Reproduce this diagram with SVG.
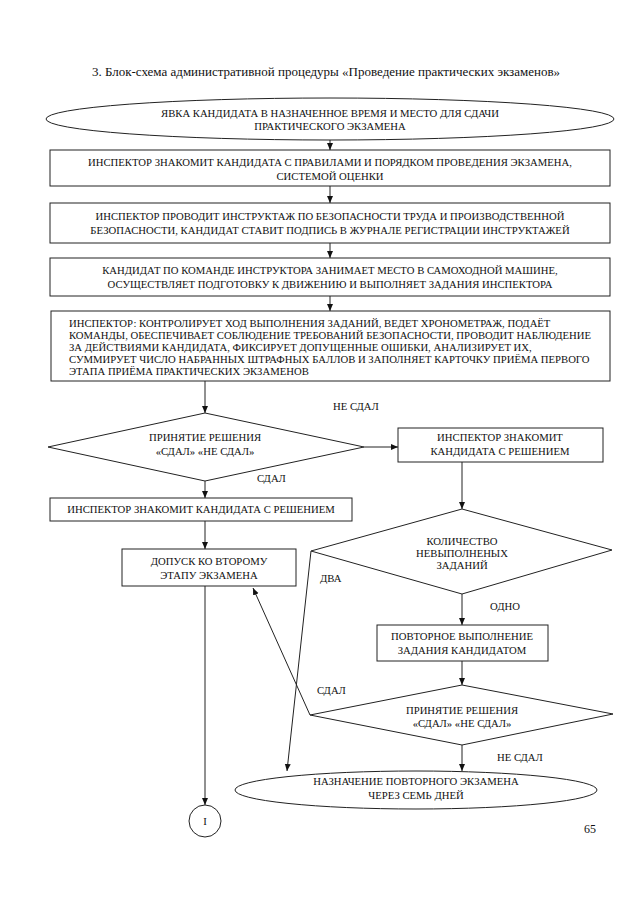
<svg xmlns="http://www.w3.org/2000/svg" width="640" height="905" viewBox="0 0 640 905">
<defs>
<marker id="ah" markerWidth="8" markerHeight="8" refX="7" refY="4" orient="auto" markerUnits="userSpaceOnUse">
<path d="M0,1 L7,4 L0,7 z" fill="#111"/>
</marker>
<style>
.s{fill:#fff;stroke:#222;stroke-width:1}
.c{fill:none;stroke:#222;stroke-width:1}
.t{font-family:"Liberation Serif","Times New Roman",serif;font-size:10.7px;fill:#111;text-anchor:middle}
.l{font-family:"Liberation Serif","Times New Roman",serif;font-size:10.7px;fill:#111}
.h{font-family:"Liberation Serif","Times New Roman",serif;font-size:13px;fill:#111;text-anchor:middle}
</style>
</defs>
<rect width="640" height="905" fill="#fff"/>
<text class="h" x="326" y="76">3. Блок-схема административной процедуры «Проведение практических экзаменов»</text>

<g id="connectors">
<line class="c" x1="330" y1="140" x2="330" y2="150" marker-end="url(#ah)"/>
<line class="c" x1="330" y1="186" x2="330" y2="203" marker-end="url(#ah)"/>
<line class="c" x1="330" y1="243" x2="330" y2="258" marker-end="url(#ah)"/>
<line class="c" x1="330" y1="296" x2="330" y2="311" marker-end="url(#ah)"/>
<line class="c" x1="205" y1="381" x2="205" y2="413" marker-end="url(#ah)"/>
<line class="c" x1="364" y1="447" x2="398" y2="447" marker-end="url(#ah)"/>
<line class="c" x1="205" y1="481" x2="205" y2="498" marker-end="url(#ah)"/>
<line class="c" x1="205" y1="521" x2="205" y2="549" marker-end="url(#ah)"/>
<line class="c" x1="205" y1="586" x2="205" y2="805" marker-end="url(#ah)"/>
<line class="c" x1="462" y1="462" x2="462" y2="509" marker-end="url(#ah)"/>
<line class="c" x1="462" y1="594" x2="462" y2="625" marker-end="url(#ah)"/>
<line class="c" x1="462" y1="661" x2="462" y2="685" marker-end="url(#ah)"/>
<line class="c" x1="310" y1="715" x2="253" y2="588" marker-end="url(#ah)"/>
<line class="c" x1="311" y1="551" x2="287" y2="771" marker-end="url(#ah)"/>
<line class="c" x1="462" y1="745" x2="462" y2="771" marker-end="url(#ah)"/>
<text class="l" x="333" y="410">НЕ СДАЛ</text>
<text class="l" x="257" y="482">СДАЛ</text>
<text class="l" x="320" y="582">ДВА</text>
<text class="l" x="490" y="610">ОДНО</text>
<text class="l" x="317" y="694">СДАЛ</text>
<text class="l" x="497" y="761">НЕ СДАЛ</text>
</g>

<g id="n1">
<ellipse class="s" cx="330" cy="119" rx="284" ry="21"/>
<text class="t" x="330" y="117">ЯВКА КАНДИДАТА В НАЗНАЧЕННОЕ ВРЕМЯ И МЕСТО ДЛЯ СДАЧИ</text>
<text class="t" x="330" y="130">ПРАКТИЧЕСКОГО ЭКЗАМЕНА</text>
</g>
<g id="n2">
<rect class="s" x="50" y="150" width="560" height="36"/>
<text class="t" x="330" y="166">ИНСПЕКТОР ЗНАКОМИТ КАНДИДАТА С ПРАВИЛАМИ И ПОРЯДКОМ ПРОВЕДЕНИЯ ЭКЗАМЕНА,</text>
<text class="t" x="330" y="180">СИСТЕМОЙ ОЦЕНКИ</text>
</g>
<g id="n3">
<rect class="s" x="50" y="203" width="560" height="40"/>
<text class="t" x="330" y="220">ИНСПЕКТОР ПРОВОДИТ ИНСТРУКТАЖ ПО БЕЗОПАСНОСТИ ТРУДА И ПРОИЗВОДСТВЕННОЙ</text>
<text class="t" x="330" y="234">БЕЗОПАСНОСТИ, КАНДИДАТ СТАВИТ ПОДПИСЬ В ЖУРНАЛЕ РЕГИСТРАЦИИ ИНСТРУКТАЖЕЙ</text>
</g>
<g id="n4">
<rect class="s" x="50" y="258" width="560" height="38"/>
<text class="t" x="330" y="274">КАНДИДАТ ПО КОМАНДЕ ИНСТРУКТОРА ЗАНИМАЕТ МЕСТО В САМОХОДНОЙ МАШИНЕ,</text>
<text class="t" x="330" y="288">ОСУЩЕСТВЛЯЕТ ПОДГОТОВКУ К ДВИЖЕНИЮ И ВЫПОЛНЯЕТ ЗАДАНИЯ ИНСПЕКТОРА</text>
</g>
<g id="n5">
<rect class="s" x="51" y="311" width="559" height="70"/>
<text class="l" x="69" y="327">ИНСПЕКТОР: КОНТРОЛИРУЕТ ХОД ВЫПОЛНЕНИЯ ЗАДАНИЙ, ВЕДЕТ ХРОНОМЕТРАЖ, ПОДАЁТ</text>
<text class="l" x="69" y="339">КОМАНДЫ, ОБЕСПЕЧИВАЕТ СОБЛЮДЕНИЕ ТРЕБОВАНИЙ БЕЗОПАСНОСТИ, ПРОВОДИТ НАБЛЮДЕНИЕ</text>
<text class="l" x="69" y="351">ЗА ДЕЙСТВИЯМИ КАНДИДАТА, ФИКСИРУЕТ ДОПУЩЕННЫЕ ОШИБКИ, АНАЛИЗИРУЕТ ИХ,</text>
<text class="l" x="69" y="363">СУММИРУЕТ ЧИСЛО НАБРАННЫХ ШТРАФНЫХ БАЛЛОВ И ЗАПОЛНЯЕТ КАРТОЧКУ ПРИЁМА ПЕРВОГО</text>
<text class="l" x="69" y="375">ЭТАПА ПРИЁМА ПРАКТИЧЕСКИХ ЭКЗАМЕНОВ</text>
</g>
<g id="d1">
<polygon class="s" points="48,447 205,413 364,447 205,481"/>
<text class="t" x="205" y="441">ПРИНЯТИЕ РЕШЕНИЯ</text>
<text class="t" x="205" y="455">«СДАЛ» «НЕ СДАЛ»</text>
</g>
<g id="n6">
<rect class="s" x="398" y="428" width="205" height="34"/>
<text class="t" x="500" y="441">ИНСПЕКТОР ЗНАКОМИТ</text>
<text class="t" x="500" y="455">КАНДИДАТА С РЕШЕНИЕМ</text>
</g>
<g id="n7">
<rect class="s" x="50" y="498" width="302" height="23"/>
<text class="t" x="201" y="513">ИНСПЕКТОР ЗНАКОМИТ КАНДИДАТА С РЕШЕНИЕМ</text>
</g>
<g id="n8">
<rect class="s" x="122" y="549" width="174" height="37"/>
<text class="t" x="209" y="565">ДОПУСК КО ВТОРОМУ</text>
<text class="t" x="209" y="579">ЭТАПУ ЭКЗАМЕНА</text>
</g>
<g id="d2">
<polygon class="s" points="311,551 462,509 612,550 462,594"/>
<text class="t" x="462" y="545">КОЛИЧЕСТВО</text>
<text class="t" x="462" y="557">НЕВЫПОЛНЕНЫХ</text>
<text class="t" x="462" y="569">ЗАДАНИЙ</text>
</g>
<g id="n9">
<rect class="s" x="377" y="625" width="171" height="36"/>
<text class="t" x="462" y="640">ПОВТОРНОЕ ВЫПОЛНЕНИЕ</text>
<text class="t" x="462" y="654">ЗАДАНИЯ КАНДИДАТОМ</text>
</g>
<g id="d3">
<polygon class="s" points="310,715 462,685 613,714 462,745"/>
<text class="t" x="462" y="714">ПРИНЯТИЕ РЕШЕНИЯ</text>
<text class="t" x="462" y="727">«СДАЛ» «НЕ СДАЛ»</text>
</g>
<g id="n10">
<ellipse class="s" cx="416" cy="790" rx="181" ry="19"/>
<text class="t" x="416" y="785">НАЗНАЧЕНИЕ ПОВТОРНОГО ЭКЗАМЕНА</text>
<text class="t" x="416" y="799">ЧЕРЕЗ СЕМЬ ДНЕЙ</text>
</g>
<g id="c1">
<circle class="s" cx="205" cy="821" r="16"/>
<text class="t" x="205" y="825">I</text>
</g>
<text class="h" x="590" y="833" style="font-size:12px">65</text>
</svg>
